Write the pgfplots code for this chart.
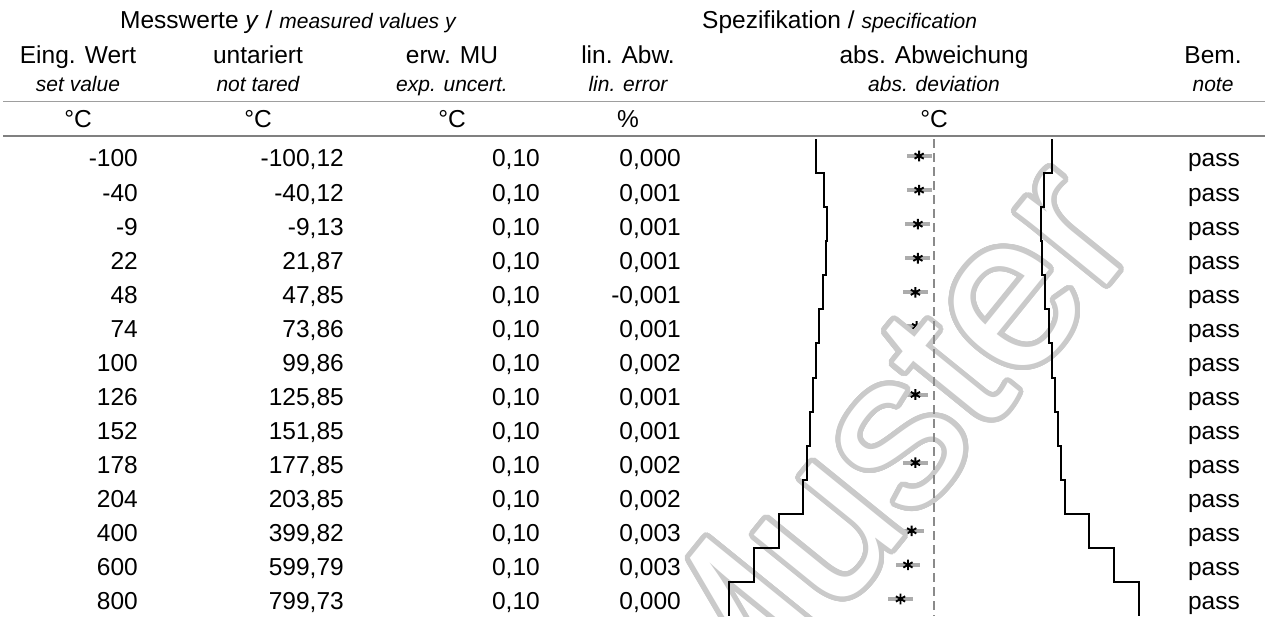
\documentclass[border=0pt]{standalone}
\usepackage{fontspec}
\setmainfont{Liberation Sans}
\usepackage{pgfplots}
\usepackage{pgfplotstable}
\pgfplotsset{compat=1.18}
\usepackage[copies]{contour}
\contourlength{5pt}
\contournumber{48}

\definecolor{wm}{RGB}{202,202,202}
\definecolor{bargray}{RGB}{172,172,172}
\definecolor{dashgray}{RGB}{138,138,138}

\newcommand\mainsz{\fontsize{24.5}{28}\selectfont}
\newcommand\subsz{\fontsize{21}{24}\selectfont\itshape}

% row, set value - measured value, expanded uncertainty
\pgfplotstableread{
r d u
1  -0.12 0.10
2  -0.12 0.10
3  -0.13 0.10
4  -0.13 0.10
5  -0.15 0.10
6  -0.14 0.10
7  -0.14 0.10
8  -0.15 0.10
9  -0.15 0.10
10 -0.15 0.10
11 -0.15 0.10
12 -0.18 0.10
13 -0.21 0.10
14 -0.27 0.10
}\devtab

\newcommand\trow[4]{%
  \pgfmathsetmacro\yb{-167-34.07*(#1-1)}%
  \node[anchor=base east] at (138,\yb) {#2};
  \node[anchor=base east] at (344,\yb) {#3};
  \node[anchor=base east] at (540,\yb) {0,10};
  \node[anchor=base east] at (681,\yb) {#4};
  \node[anchor=base east] at (1240,\yb) {pass};
}

\pgfplotsset{specaxis/.style={
  at={(934pt,-139pt)}, anchor=north,
  scale only axis, width=471.2pt, height=477pt,
  xmin=-1.9, xmax=1.9, ymin=0.5, ymax=14.5,
  y dir=reverse, hide axis, clip=false}}

\begin{document}
\begin{tikzpicture}[x=1pt,y=1pt,every node/.style={inner sep=0pt,font=\mainsz}]
\useasboundingbox (0,0) rectangle (1267,-617);

% header
\node[anchor=base west] at (120,-29) {Messwerte \textit{y} / {\subsz measured values y}};
\node[anchor=base west] at (702,-29) {Spezifikation / {\subsz specification}};

\node[anchor=base] at (78,-64) {Eing. Wert};
\node[anchor=base] at (258,-64) {untariert};
\node[anchor=base] at (452,-64) {erw. MU};
\node[anchor=base] at (628,-64) {lin. Abw.};
\node[anchor=base] at (934,-64) {abs. Abweichung};
\node[anchor=base] at (1213,-64) {Bem.};

\node[anchor=base,font=\subsz] at (78,-92) {set value};
\node[anchor=base,font=\subsz] at (258,-92) {not tared};
\node[anchor=base,font=\subsz] at (452,-92) {exp. uncert.};
\node[anchor=base,font=\subsz] at (628,-92) {lin. error};
\node[anchor=base,font=\subsz] at (934,-92) {abs. deviation};
\node[anchor=base,font=\subsz] at (1213,-92) {note};

\draw[black!38,line width=1.2pt] (3,-101.7) -- (1265,-101.7);
\node[anchor=base] at (78,-128) {°C};
\node[anchor=base] at (258,-128) {°C};
\node[anchor=base] at (452,-128) {°C};
\node[anchor=base] at (628,-128) {\%};
\node[anchor=base] at (934,-128) {°C};
\draw[black!50,line width=2pt] (3,-135.7) -- (1265,-135.7);

% table body
\trow{1}{-100}{-100,12}{0,000}
\trow{2}{-40}{-40,12}{0,001}
\trow{3}{-9}{-9,13}{0,001}
\trow{4}{22}{21,87}{0,001}
\trow{5}{48}{47,85}{-0,001}
\trow{6}{74}{73,86}{0,001}
\trow{7}{100}{99,86}{0,002}
\trow{8}{126}{125,85}{0,001}
\trow{9}{152}{151,85}{0,001}
\trow{10}{178}{177,85}{0,002}
\trow{11}{204}{203,85}{0,002}
\trow{12}{400}{399,82}{0,003}
\trow{13}{600}{599,79}{0,003}
\trow{14}{800}{799,73}{0,000}

% deviations with uncertainty
\begin{axis}[specaxis]
\addplot[draw=none, mark=none,
  error bars/.cd, x dir=both, x explicit, error mark=none,
  error bar style={draw=bargray, line width=4pt}]
  table[x=d, y=r, x error=u] {\devtab};
\addplot[only marks, mark=asterisk, mark size=5.3pt,
  mark options={black, line width=1.9pt}]
  table[x=d, y=r] {\devtab};
\end{axis}

% watermark
\node[rotate=51, text=white, font=\fontsize{220}{220}\selectfont] at (876,-455) {\contour{wm}{Muster}};

% zero line and specification limits
\begin{axis}[specaxis]
\addplot[dashgray, line width=2pt, dash pattern=on 9pt off 5pt] coordinates {(0,0.5) (0,14.5)};
\addplot[black, line width=2pt] coordinates {
  (0.95,0.5) (0.95,1.5) (0.89,1.5) (0.89,2.5) (0.859,2.5) (0.859,3.5)
  (0.872,3.5) (0.872,4.5) (0.898,4.5) (0.898,5.5) (0.924,5.5) (0.924,6.5)
  (0.95,6.5) (0.95,7.5) (0.976,7.5) (0.976,8.5) (1.002,8.5) (1.002,9.5)
  (1.028,9.5) (1.028,10.5) (1.054,10.5) (1.054,11.5) (1.25,11.5) (1.25,12.5)
  (1.45,12.5) (1.45,13.5) (1.65,13.5) (1.65,14.5)};
\addplot[black, line width=2pt] coordinates {
  (-0.95,0.5) (-0.95,1.5) (-0.89,1.5) (-0.89,2.5) (-0.859,2.5) (-0.859,3.5)
  (-0.872,3.5) (-0.872,4.5) (-0.898,4.5) (-0.898,5.5) (-0.924,5.5) (-0.924,6.5)
  (-0.95,6.5) (-0.95,7.5) (-0.976,7.5) (-0.976,8.5) (-1.002,8.5) (-1.002,9.5)
  (-1.028,9.5) (-1.028,10.5) (-1.054,10.5) (-1.054,11.5) (-1.25,11.5) (-1.25,12.5)
  (-1.45,12.5) (-1.45,13.5) (-1.65,13.5) (-1.65,14.5)};
\end{axis}
\end{tikzpicture}
\end{document}
